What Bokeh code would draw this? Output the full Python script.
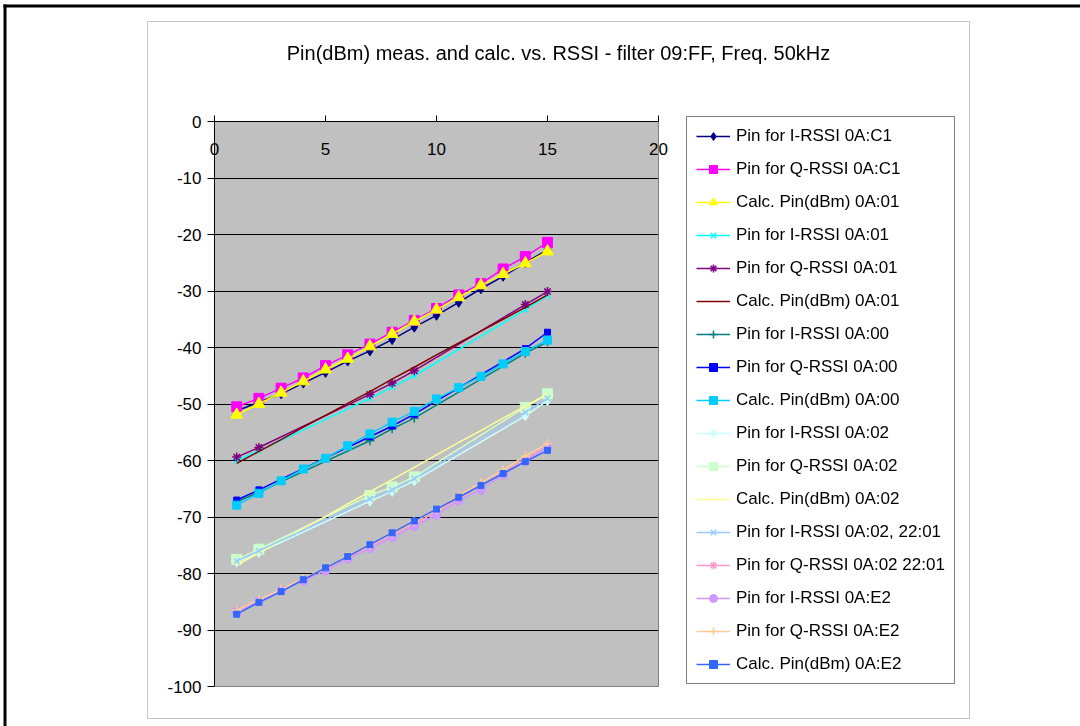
from bokeh.plotting import figure
from bokeh.models import (Legend, LegendItem, BoxAnnotation, Label, FixedTicker,
                          Range1d, PrintfTickFormatter)
from bokeh.embed import file_html
from bokeh.resources import INLINE

# ---------------- data ----------------
title_text = "Pin(dBm) meas. and calc. vs. RSSI - filter 09:FF, Freq. 50kHz"
x_ticks = [0, 5, 10, 15, 20]
y_ticks = [-100, -90, -80, -70, -60, -50, -40, -30, -20, -10, 0]
grid_ticks = [-90, -80, -70, -60, -50, -40, -30, -20, -10]

x_all = [1, 2, 3, 4, 5, 6, 7, 8, 9, 10, 11, 12, 13, 14, 15]
x_sub = [1, 2, 7, 8, 9, 14, 15]

names = [
    "Pin for I-RSSI 0A:C1",
    "Pin for Q-RSSI 0A:C1",
    "Calc. Pin(dBm) 0A:01",
    "Pin for I-RSSI 0A:01",
    "Pin for Q-RSSI 0A:01",
    "Calc. Pin(dBm) 0A:01",
    "Pin for I-RSSI 0A:00",
    "Pin for Q-RSSI 0A:00",
    "Calc. Pin(dBm) 0A:00",
    "Pin for I-RSSI 0A:02",
    "Pin for Q-RSSI 0A:02",
    "Calc. Pin(dBm) 0A:02",
    "Pin for I-RSSI 0A:02, 22:01",
    "Pin for Q-RSSI 0A:02 22:01",
    "Pin for I-RSSI 0A:E2",
    "Pin for Q-RSSI 0A:E2",
    "Calc. Pin(dBm) 0A:E2",
]

i_rssi_c1 = [-51.2, -49.7, -48.2, -46.3, -44.4, -42.4, -40.6, -38.6, -36.4, -34.3, -32.0, -29.6, -27.4, -25.0, -22.7]
q_rssi_c1 = [-50.5, -49.0, -47.2, -45.4, -43.2, -41.3, -39.4, -37.3, -35.2, -33.1, -30.7, -28.7, -26.1, -23.9, -21.4]
calc_01a = [-51.9, -50.0, -48.0, -46.0, -43.9, -42.0, -39.8, -37.6, -35.4, -33.3, -31.1, -29.0, -27.0, -25.1, -23.0]
i_rssi_01 = [-60.0, -58.3, -49.0, -47.0, -45.0, -33.3, -30.8]
q_rssi_01 = [-59.4, -57.7, -48.3, -46.3, -44.1, -32.4, -30.1]
calc_01b = [-60.5, -58.4, -56.3, -54.1, -52.0, -49.9, -47.8, -45.6, -43.5, -41.3, -39.2, -37.1, -35.0, -32.9, -30.7]
i_rssi_00 = [-67.3, -65.6, -56.5, -54.4, -52.5, -41.0, -39.0]
q_rssi_00 = [-67.0, -65.2, -55.8, -53.9, -51.8, -40.2, -37.3]
calc_00 = [-67.9, -65.8, -63.6, -61.5, -59.6, -57.4, -55.3, -53.2, -51.3, -49.1, -47.1, -45.1, -42.9, -40.7, -38.7]
i_rssi_02 = [-78.0, -76.3, -67.2, -65.5, -63.6, -52.1, -49.4]
q_rssi_02 = [-77.5, -75.7, -66.2, -64.7, -62.9, -50.6, -48.2]
calc_02 = [-78.5, -76.4, -74.2, -72.0, -69.9, -67.7, -65.5, -63.4, -61.2, -59.0, -56.8, -54.7, -52.5, -50.4, -48.2]
i_rssi_02_2201 = [-77.8, -76.0, -66.8, -65.2, -63.2, -51.5, -49.0]
q_rssi_02_2201 = [-86.6, -84.7, -75.3, -73.3, -71.3, -59.8, -57.4]
i_rssi_e2 = [-86.8, -84.9, -83.0, -81.3, -79.5, -77.4, -75.5, -73.6, -71.6, -69.6, -67.1, -65.2, -62.5, -60.1, -57.6]
q_rssi_e2 = [-86.5, -84.6, -82.8, -80.9, -79.0, -77.0, -75.0, -72.9, -70.8, -68.7, -66.2, -63.9, -61.7, -59.2, -57.0]
calc_e2 = [-87.2, -85.1, -83.2, -81.1, -79.0, -77.0, -74.9, -72.8, -70.7, -68.6, -66.5, -64.4, -62.3, -60.2, -58.2]

series_x = [x_all, x_all, x_all, x_sub, x_sub, x_all, x_sub, x_sub, x_all,
            x_sub, x_sub, x_all, x_sub, x_sub, x_all, x_all, x_all]
series_y = [i_rssi_c1, q_rssi_c1, calc_01a, i_rssi_01, q_rssi_01, calc_01b,
            i_rssi_00, q_rssi_00, calc_00, i_rssi_02, q_rssi_02, calc_02,
            i_rssi_02_2201, q_rssi_02_2201, i_rssi_e2, q_rssi_e2, calc_e2]

# ---------------- styles ----------------
colors = ["#000080", "#FF00FF", "#FFFF00", "#00FFFF", "#800080", "#800000",
          "#008080", "#0000FF", "#00CCFF", "#CCFFFF", "#CCFFCC", "#FFFF99",
          "#99CCFF", "#FF99CC", "#CC99FF", "#FFCC99", "#3366FF"]
markers = ["diamond", "square", "triangle", "x", "asterisk", None,
           "cross", "square", "square", "diamond", "square", None,
           "x", "asterisk", "circle", "cross", "square"]
msizes = [10, 10, 12, 8, 9, 0, 9, 6, 8, 10, 10, 0, 8, 8, 9, 9, 6]

FONT = "Liberation Sans"
W, H = 1080, 726
FL, FR, FT, FB = 214, 658, 121, 686

# ---------------- main plot ----------------
p = figure(width=W, height=H, output_backend="svg", toolbar_location=None,
           x_range=Range1d(0, 20), y_range=Range1d(-100, 0),
           x_axis_location="above",
           min_border_left=FL, min_border_right=W - FR,
           min_border_top=FT, min_border_bottom=H - FB)
p.background_fill_color = "#C0C0C0"
p.border_fill_color = "white"
p.outline_line_color = "#808080"
p.outline_line_width = 1

p.xaxis.ticker = FixedTicker(ticks=x_ticks)
p.yaxis.ticker = FixedTicker(ticks=y_ticks)
for ax in (p.xaxis, p.yaxis):
    ax.axis_line_color = "black"
    ax.axis_line_width = 1
    ax.major_tick_line_color = "black"
    ax.minor_tick_line_color = None
    ax.major_label_text_font = FONT
    ax.major_label_text_font_size = "17px"
    ax.major_label_text_color = "black"
    ax.formatter = PrintfTickFormatter(format="%d")
p.xaxis.major_tick_in = 0
p.xaxis.major_tick_out = 6
p.xaxis.major_label_standoff = -39
p.yaxis.major_tick_in = 0
p.yaxis.major_tick_out = 7
p.yaxis.major_label_standoff = 6

p.xgrid.grid_line_color = None
p.ygrid.ticker = FixedTicker(ticks=grid_ticks)
p.ygrid.grid_line_color = "black"
p.ygrid.grid_line_width = 1

for xs, ys, c, m, s in zip(series_x, series_y, colors, markers, msizes):
    p.line(xs, ys, line_color=c, line_width=1.5)
    if m is not None:
        p.scatter(xs, ys, marker=m, size=s, fill_color=c, line_color=c,
                  line_width=1.5 if m in ("x", "cross", "asterisk") else 1)

# ---------------- overlay: frames, title, legend ----------------
ov = figure(width=W, height=H, output_backend="svg", toolbar_location=None,
            x_range=Range1d(0, W), y_range=Range1d(H, 0),
            x_axis_type=None, y_axis_type=None,
            min_border_left=0, min_border_right=0, min_border_top=0, min_border_bottom=0,
            styles={"position": "fixed", "left": "0px", "top": "0px",
                    "pointer-events": "none", "z-index": "10"})
ov.background_fill_alpha = 0
ov.border_fill_alpha = 0
ov.outline_line_color = None
ov.xgrid.visible = False
ov.ygrid.visible = False

# outer page frame (thick top and left rules)
ov.add_layout(BoxAnnotation(left=3, right=1080, top=4, bottom=7,
                            fill_color="black", fill_alpha=1, line_color=None))
ov.add_layout(BoxAnnotation(left=3, right=6, top=4, bottom=726,
                            fill_color="black", fill_alpha=1, line_color=None))
# chart area border
ov.add_layout(BoxAnnotation(left=147, right=969, top=21, bottom=718,
                            fill_alpha=0, line_color="#404040", line_width=1))
ov.add_layout(Label(x=558, y=52, text=title_text, text_align="center",
                    text_baseline="middle", text_font=FONT,
                    text_font_size="20px", text_color="black"))

# legend (proxy renderers carry the same styles as the plotted series)
nan = float("nan")
items = []
for name, c, m, s in zip(names, colors, markers, msizes):
    rs = [ov.line(x=[nan], y=[nan], line_color=c, line_width=1.5)]
    if m is not None:
        rs.append(ov.scatter(x=[nan], y=[nan], marker=m, size=s, fill_color=c, line_color=c,
                             line_width=1.5 if m in ("x", "cross", "asterisk") else 1))
    items.append(LegendItem(label=name, renderers=rs))

legend = Legend(items=items, location=(686, H - 684), margin=0, padding=9,
                spacing=13, label_height=20, glyph_height=20, glyph_width=34,
                label_standoff=6, label_text_font=FONT, label_text_font_size="17px",
                label_text_color="black",
                border_line_color="black", border_line_width=1,
                background_fill_color="white", background_fill_alpha=1)
ov.add_layout(legend, "center")

open("out.html", "w").write(file_html([p, ov], INLINE))
